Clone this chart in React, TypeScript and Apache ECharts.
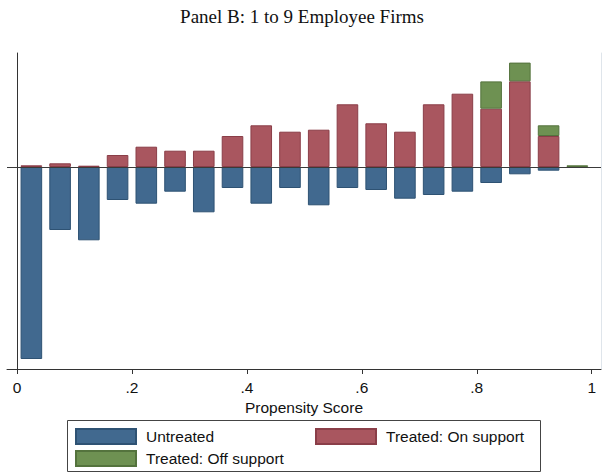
import { useEffect, useRef } from "react";
import * as echarts from "echarts";

// Propensity score bins (width 0.05), identified by their centres
const binCenters = [
  0.025, 0.075, 0.125, 0.175, 0.225, 0.275, 0.325, 0.375, 0.425, 0.475,
  0.525, 0.575, 0.625, 0.675, 0.725, 0.775, 0.825, 0.875, 0.925, 0.975,
];

// Bar heights per bin (untreated drawn below the zero line)
const untreated = [
  19.2, 6.3, 7.33, 3.3, 3.67, 2.47, 4.53, 2.1, 3.67, 2.1,
  3.83, 2.1, 2.3, 3.17, 2.8, 2.47, 1.6, 0.73, 0.37, null,
];
const treatedOnSupport = [
  0.17, 0.37, 0.13, 1.2, 2.03, 1.63, 1.63, 3.1, 4.17, 3.53,
  3.73, 6.27, 4.37, 3.53, 6.27, 7.33, 5.83, 8.57, 3.1, null,
];
const treatedOffSupport = [
  null, null, null, null, null, null, null, null, null, null,
  null, null, null, null, null, null, 2.73, 1.87, 1.07, 0.17,
];

const tickValues = [0, 0.2, 0.4, 0.6, 0.8, 1];
const tickLabels = ["0", ".2", ".4", ".6", ".8", "1"];

const SANS = '"Liberation Sans", Arial, Helvetica, sans-serif';
const SERIF = '"Liberation Serif", "Times New Roman", serif';

const BLUE = "#41698f";
const BLUE_EDGE = "#2e5273";
const RED = "#a9565f";
const RED_EDGE = "#8a3e48";
const GREEN = "#6e9152";
const GREEN_EDGE = "#54733d";

// Rows are [height, binCentre]; the height column comes first so that the
// stack is computed on the vertical dimension of this value/value grid.
function rows(values: (number | null)[], sign: number) {
  return binCenters.map((x, i) => [values[i] == null ? null : sign * (values[i] as number), x]);
}

export default function App() {
  const ref = useRef<HTMLDivElement>(null);

  useEffect(() => {
    if (!ref.current) return;
    document.body.style.margin = "0";
    const chart = echarts.init(ref.current, undefined, { renderer: "svg" });

    const barBase = {
      type: "bar" as const,
      stack: "ps",
      barWidth: 21.6,
      encode: { x: 1, y: 0 },
      emphasis: { disabled: true },
    };

    chart.setOption({
      animation: false,
      backgroundColor: "#ffffff",
      title: {
        text: "Panel B: 1 to 9 Employee Firms",
        left: "center",
        top: 2,
        textStyle: {
          fontFamily: SERIF,
          fontSize: 19,
          fontWeight: "normal",
          color: "#111111",
        },
      },
      grid: {
        left: 7,
        right: 3,
        top: 53,
        height: 316,
        outerBoundsMode: "none",
      },
      xAxis: {
        type: "value",
        min: -0.0174,
        max: 1.0162,
        name: "Propensity Score",
        nameLocation: "middle",
        nameGap: 25,
        nameTextStyle: { fontFamily: SANS, fontSize: 15.5, color: "#111111" },
        axisLine: { show: true, onZero: false, lineStyle: { color: "#333333", width: 1 } },
        axisTick: {
          show: true,
          length: 5,
          customValues: tickValues,
          lineStyle: { color: "#333333" },
        },
        axisLabel: {
          customValues: tickValues,
          margin: 10,
          fontFamily: SANS,
          fontSize: 15.5,
          color: "#111111",
          formatter: (v: number) => {
            const i = tickValues.findIndex((t) => Math.abs(t - v) < 1e-6);
            return i >= 0 ? tickLabels[i] : "";
          },
        },
        splitLine: { show: false },
      },
      yAxis: [
        {
          type: "value",
          min: -20.2,
          max: 11.4,
          axisLine: { show: true, lineStyle: { color: "#333333", width: 1 } },
          axisTick: { show: false },
          axisLabel: { show: false },
          splitLine: { show: false },
        },
        {
          type: "value",
          position: "right",
          min: -20.2,
          max: 11.4,
          axisLine: { show: true, lineStyle: { color: "#dfe5eb", width: 1 } },
          axisTick: { show: false },
          axisLabel: { show: false },
          splitLine: { show: false },
        },
      ],
      legend: {
        data: ["Untreated", "Treated: On support", "", "Treated: Off support"],
        left: 75,
        top: 428,
        width: 520,
        padding: 0,
        itemWidth: 60,
        itemHeight: 15,
        itemGap: 5,
        icon: "rect",
        selectedMode: false,
        textStyle: {
          fontFamily: SANS,
          fontSize: 15.5,
          color: "#111111",
          width: 164,
          lineHeight: 16,
          padding: [0, 0, 0, 5],
        },
      },
      graphic: [
        {
          type: "rect",
          shape: { x: 67.5, y: 420.5, width: 473, height: 51 },
          style: { fill: "none", stroke: "#444444", lineWidth: 1 },
          silent: true,
        },
      ],
      series: [
        {
          ...barBase,
          name: "Untreated",
          data: rows(untreated, -1),
          itemStyle: { color: BLUE, borderColor: BLUE_EDGE, borderWidth: 1 },
          markLine: {
            silent: true,
            symbol: "none",
            label: { show: false },
            lineStyle: { color: "#3a3a3a", width: 1.2, type: "solid" },
            data: [{ yAxis: 0 }],
            z: 10,
          },
        },
        {
          ...barBase,
          name: "Treated: On support",
          data: rows(treatedOnSupport, 1),
          itemStyle: { color: RED, borderColor: RED_EDGE, borderWidth: 1 },
        },
        {
          ...barBase,
          name: "Treated: Off support",
          data: rows(treatedOffSupport, 1),
          itemStyle: { color: GREEN, borderColor: GREEN_EDGE, borderWidth: 1 },
        },
      ],
    });

    return () => chart.dispose();
  }, []);

  return <div ref={ref} style={{ width: 604, height: 473 }} />;
}
